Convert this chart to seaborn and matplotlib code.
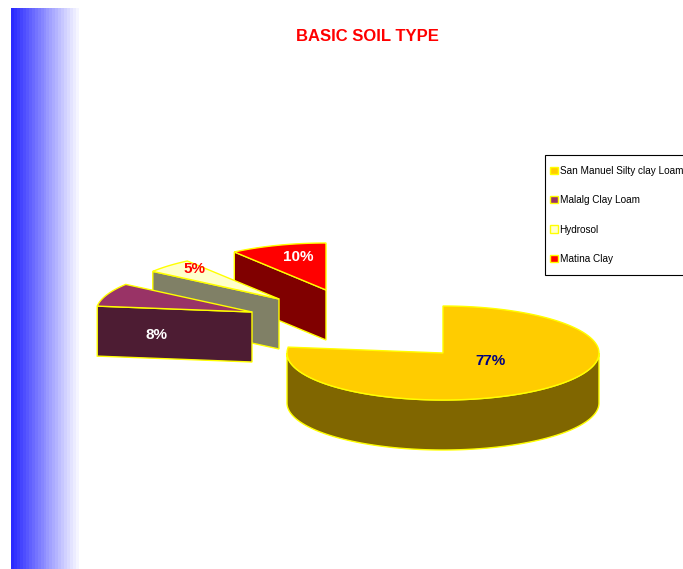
import numpy as np
import matplotlib
matplotlib.use("Agg")
import matplotlib.pyplot as plt
from matplotlib.patches import Patch, Polygon, Rectangle
import seaborn as sns

# Survey shares by basic soil type
soil_types = ["San Manuel Silty clay Loam", "Malalg Clay Loam", "Hydrosol", "Matina Clay"]
shares = [77, 8, 5, 10]
title_text = "BASIC SOIL TYPE"

top_colors = ["#FFCC00", "#993366", "#FFFFCC", "#FF0000"]
side_colors = ["#806600", "#4D1C33", "#808066", "#800000"]
label_colors = ["#000080", "#FFFFFF", "#FF0000", "#FFFFFF"]
edge_yellow = "#FFFF00"

# Projected pie geometry (pixels)
CENTER = np.array([443.0, 353.0])
RX, RY, DEPTH = 156.0, 47.0, 50.0
explode = [(0, 0), (-191, -41), (-164, -54), (-117, -63)]
label_offsets = [(48, 8), (-95, 23), (-85, -30), (-28, -33)]

sns.set_theme(style="white")
plt.rcParams["font.family"] = ["Liberation Sans", "DejaVu Sans"]

fig = plt.figure(figsize=(6.83, 5.69), dpi=100)
ax = fig.add_axes([0, 0, 1, 1])
ax.axis("off")

# Stepped blue fade down the left margin
fade = sns.blend_palette(["#2A2AFF", "#FFFFFF"], 24)
ax.imshow(np.array([fade]), extent=(11, 82, 569, 8), aspect="auto",
          interpolation="nearest", zorder=0)
ax.set_xlim(0, 683)
ax.set_ylim(569, 0)


def rim_point(tip, deg):
    a = np.radians(deg)
    return tip + np.column_stack([RX * np.sin(a), -RY * np.cos(a)])


def draw_slice(start, end, offset, top, side, z):
    tip = CENTER + np.array(offset, dtype=float)
    arc = rim_point(tip, np.linspace(start, end, 160))
    drop = np.array([0, DEPTH])
    if offset == (0, 0):
        # Main slice shows its curved outer wall
        wall = rim_point(tip, np.linspace(90, 270, 160))
        ax.add_patch(Polygon(np.vstack([wall, (wall + drop)[::-1]]), closed=True, fc=side,
                             ec=edge_yellow, lw=1.0, zorder=z))
    else:
        # Pulled-out slices show the flat cut along their leading radius
        face = np.vstack([arc[0], tip, tip + drop, arc[0] + drop])
        ax.add_patch(Polygon(face, closed=True, fc=side, ec=edge_yellow, lw=1.0, zorder=z))
    ax.add_patch(Polygon(np.vstack([tip, arc]), closed=True, fc=top, ec=edge_yellow,
                         lw=1.0, zorder=z + 0.5))


bounds = np.concatenate([[0], np.cumsum(shares)]) * 3.6
for i in [3, 2, 1, 0]:
    draw_slice(bounds[i], bounds[i + 1], explode[i], top_colors[i], side_colors[i], 5 + (3 - i))

for i, value in enumerate(shares):
    x, y = CENTER + np.array(explode[i]) + np.array(label_offsets[i])
    ax.text(x, y, f"{value}%", color=label_colors[i], fontsize=11, fontweight="bold",
            ha="center", va="center", zorder=20)

ax.text(367, 36, title_text, color="#FF0000", fontsize=12, fontweight="bold",
        ha="center", va="center", zorder=20)

# Legend frame runs off the right edge, with the entries laid out inside it
ax.add_patch(Rectangle((545, 155), 150, 120, fc="white", ec="black", lw=0.8, zorder=25))
handles = [Patch(facecolor=t, edgecolor=edge_yellow, linewidth=1) for t in top_colors]
legend = ax.legend(handles, soil_types, loc="upper left", bbox_to_anchor=(550, 166),
                   bbox_transform=ax.transData, fontsize=7.2, frameon=False,
                   handlelength=0.75, handleheight=0.75, handletextpad=0.2,
                   labelspacing=1.93, borderpad=0, borderaxespad=0, labelcolor="black")
legend.set_zorder(30)

fig.savefig("out.png", dpi=100, facecolor="white")
